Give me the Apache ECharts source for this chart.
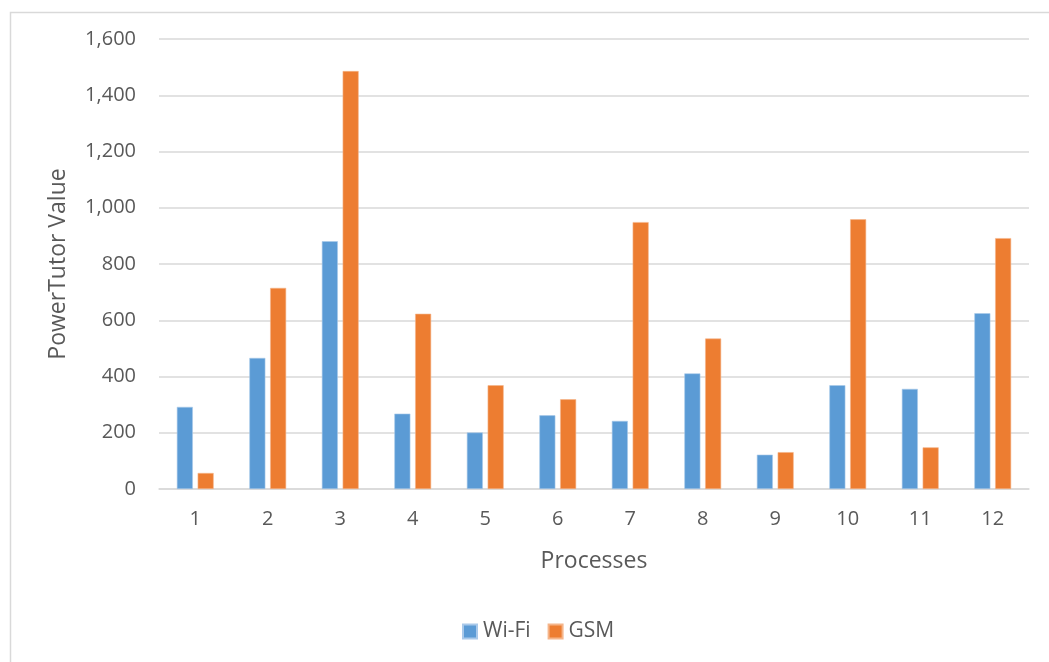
<!DOCTYPE html>
<html>
<head>
<meta charset="utf-8">
<title>PowerTutor Value by Process</title>
<script src="https://cdn.jsdelivr.net/npm/echarts@6/dist/echarts.min.js"></script>
<style>
  html, body { margin: 0; padding: 0; background: #ffffff; }
  #chart { width: 1049px; height: 662px; }
</style>
</head>
<body>
<div id="chart"></div>
<script>
// Processes on the x axis
const categories = ['1', '2', '3', '4', '5', '6', '7', '8', '9', '10', '11', '12'];
// PowerTutor readings per process
const wifiValues = [292, 466, 881, 268, 201, 262, 242, 411, 122, 369, 356, 625];
const gsmValues = [57, 715, 1486, 623, 369, 319, 949, 535, 131, 959, 148, 892];
// Value axis ticks
const yTicks = [0, 200, 400, 600, 800, 1000, 1200, 1400, 1600];

const FONT = '"Open Sans", "Noto Sans", sans-serif';
const TEXT = '#595959';

const chart = echarts.init(document.getElementById('chart'), null, { renderer: 'canvas' });

chart.setOption({
  animation: false,
  backgroundColor: '#ffffff',
  textStyle: { fontFamily: FONT, color: TEXT },
  graphic: [{
    type: 'rect',
    left: 8, top: 10,
    shape: { width: 1100, height: 700 },
    style: { fill: 'none', stroke: '#d9d9d9', lineWidth: 1.5 },
    silent: true
  }],
  grid: { left: 159, right: 20, top: 39, bottom: 173, containLabel: false },
  legend: {
    bottom: 15,
    left: 457,
    itemWidth: 14,
    itemHeight: 14,
    itemGap: 17,
    icon: 'rect',
    textStyle: { fontFamily: FONT, fontSize: 21, color: TEXT, padding: [0, 0, 0, 1] },
    data: ['Wi-Fi', 'GSM']
  },
  xAxis: {
    type: 'category',
    data: categories,
    name: 'Processes',
    nameLocation: 'middle',
    nameGap: 61,
    nameTextStyle: { fontFamily: FONT, fontSize: 23, color: TEXT },
    axisLine: { show: true, lineStyle: { color: '#d9d9d9', width: 1.5 } },
    axisTick: { show: false },
    axisLabel: { fontFamily: FONT, fontSize: 20, color: TEXT, margin: 20 }
  },
  yAxis: {
    type: 'value',
    min: yTicks[0],
    max: yTicks[yTicks.length - 1],
    interval: yTicks[1] - yTicks[0],
    name: 'PowerTutor Value',
    nameLocation: 'middle',
    nameGap: 89,
    nameRotate: 90,
    nameTextStyle: { fontFamily: FONT, fontSize: 23, color: TEXT },
    axisLine: { show: false },
    axisTick: { show: false },
    splitLine: { lineStyle: { color: '#d9d9d9', width: 1.5 } },
    axisLabel: {
      fontFamily: FONT, fontSize: 20, color: TEXT, margin: 23,
      formatter: v => v.toLocaleString('en-US')
    }
  },
  series: [
    {
      name: 'Wi-Fi',
      type: 'bar',
      data: wifiValues,
      barWidth: 16,
      barGap: '30%',
      itemStyle: { color: '#5B9BD5', borderColor: '#a9c9ea', borderWidth: 0.6 }
    },
    {
      name: 'GSM',
      type: 'bar',
      data: gsmValues,
      barWidth: 16,
      barGap: '30%',
      itemStyle: { color: '#ED7D31', borderColor: '#f5b58a', borderWidth: 0.6 }
    }
  ]
});
</script>
</body>
</html>
